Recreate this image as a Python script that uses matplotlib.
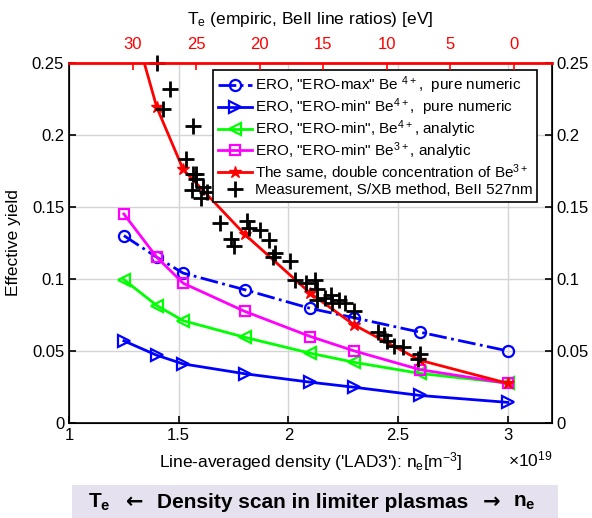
import matplotlib
matplotlib.use('Agg')
import matplotlib.pyplot as plt
from matplotlib.patches import Rectangle

plt.rcParams['font.family'] = ['Liberation Sans', 'DejaVu Sans']
plt.rcParams['mathtext.default'] = 'regular'

# density (x10^19 m^-3) of the ERO runs
ne_ero = [1.25, 1.4, 1.52, 1.8, 2.1, 2.3, 2.6, 3.0]

# effective yields of each ERO series
ero_max_num = [0.130, 0.115, 0.104, 0.0925, 0.0795, 0.073, 0.063, 0.050]
ero_min_num = [0.057, 0.047, 0.041, 0.0342, 0.0283, 0.0248, 0.0191, 0.0143]
ero_min_ana4 = [0.0995, 0.0815, 0.071, 0.0595, 0.0484, 0.0421, 0.0344, 0.0277]
ero_min_ana3 = [0.145, 0.115, 0.097, 0.0775, 0.060, 0.050, 0.037, 0.0275]
ero_double = [0.300, 0.219, 0.176, 0.131, 0.090, 0.068, 0.0435, 0.0275]

# measurement, S/XB method
meas_ne = [1.40, 1.46, 1.43, 1.565, 1.535, 1.58, 1.565, 1.58, 1.56, 1.61,
           1.63, 1.60, 1.686, 1.81, 1.82, 1.87, 1.74, 1.75, 1.91, 1.94,
           1.93, 2.005, 2.03, 2.08, 2.12, 2.13, 2.13, 2.165, 2.195, 2.20,
           2.23, 2.26, 2.30, 2.41, 2.435, 2.45, 2.48, 2.52, 2.60, 2.59]
meas_y = [0.250, 0.232, 0.218, 0.206, 0.183, 0.173, 0.173, 0.169, 0.162, 0.164,
          0.160, 0.156, 0.139, 0.140, 0.135, 0.134, 0.128, 0.123, 0.127, 0.118,
          0.115, 0.1125, 0.099, 0.097, 0.099, 0.093, 0.085, 0.087, 0.0885, 0.0835,
          0.085, 0.0835, 0.078, 0.063, 0.061, 0.057, 0.0537, 0.0524, 0.048, 0.0447]

te_ticks = [30, 25, 20, 15, 10, 5, 0]
y_ticks = [0, 0.05, 0.1, 0.15, 0.2, 0.25]
y_labels = ['0', '0.05', '0.1', '0.15', '0.2', '0.25']
x_ticks = [1, 1.5, 2, 2.5, 3]
x_labels = ['1', '1.5', '2', '2.5', '3']

fig = plt.figure(figsize=(5.92, 5.18), dpi=100)
ax = fig.add_axes([0.1166, 0.1834, 0.8154, 0.6956])

ms = 8
ax.plot(ne_ero, ero_max_num, '-.', color='#0000ff', lw=2, marker='o', ms=ms,
        mfc='none', mew=1.6, label='ERO, "ERO-max" Be $^{4+}$,  pure numeric')
ax.plot(ne_ero, ero_min_num, '-', color='#0000ff', lw=2, marker='>', ms=ms,
        mfc='none', mew=1.6, label='ERO, "ERO-min" Be$^{4+}$,  pure numeric')
ax.plot(ne_ero, ero_min_ana4, '-', color='#00ff00', lw=2, marker='<', ms=ms,
        mfc='none', mew=1.6, label='ERO, "ERO-min", Be$^{4+}$, analytic')
ax.plot(ne_ero, ero_min_ana3, '-', color='#ff00ff', lw=2, marker='s', ms=7,
        mfc='none', mew=1.6, label='ERO, "ERO-min" Be$^{3+}$, analytic')
ax.plot(ne_ero, ero_double, '-', color='#ff0000', lw=2, marker='*', ms=9,
        mfc='#ff0000', mew=1, label='The same, double concentration of Be$^{3+}$')
ax.plot(meas_ne, meas_y, '+', color='black', ms=12, mew=2, clip_on=False,
        label='Measurement, S/XB method, BeII 527nm')

ax.set_xlim(1, 3.2)
ax.set_ylim(0, 0.25)
ax.set_xticks(x_ticks)
ax.set_xticklabels(x_labels)
ax.set_yticks(y_ticks)
ax.set_yticklabels(y_labels)
ax.grid(True, color='#d4d4d4', lw=1)
ax.set_axisbelow(True)
ax.tick_params(direction='in', labelsize=12, top=True, right=True,
               labelright=True, length=5, width=1.2)
for s in ax.spines.values():
    s.set_linewidth(1.2)
ax.spines['top'].set_visible(False)

ax.set_ylabel('Effective yield', fontsize=12.5, labelpad=8)
ax.set_xlabel("Line-averaged density ('LAD3'): n$_e$[m$^{-3}$]", fontsize=12.5, labelpad=5)
fig.text(0.895, 0.1, r'$\times$10$^{19}$', fontsize=12.5, ha='center')

ax2 = ax.twiny()
ax2.set_xlim(35, -3)
ax2.set_xticks(te_ticks)
ax2.tick_params(direction='in', colors='red', labelsize=12, length=5, width=1.2, pad=8)
ax2.spines['top'].set_color('red')
ax2.spines['top'].set_linewidth(2)
ax2.set_xlabel('T$_e$ (empiric, BeII line ratios) [eV]', fontsize=12.5, labelpad=9)

leg = ax.legend(loc='upper right', bbox_to_anchor=(0.969, 0.98), fontsize=11,
                frameon=True, fancybox=False, edgecolor='black', framealpha=1,
                handlelength=2.2, handletextpad=0.2, borderpad=0.3,
                labelspacing=0.02, borderaxespad=0)
leg.get_frame().set_linewidth(1.2)

# banner below the chart
fig.patches.append(Rectangle((0.121, 0.0), 0.821, 0.064, transform=fig.transFigure,
                             facecolor='#e6e1ee', edgecolor='none'))
by = 0.03
fig.text(88 / 592, by, 'T$_e$', fontsize=15, fontweight='bold', ha='left', va='center')
fig.text(135 / 592, by, '\u2190', fontsize=15, fontweight='bold', ha='center',
         va='center', family='DejaVu Sans')
fig.text(313 / 592, by, 'Density scan in limiter plasmas', fontsize=15,
         fontweight='bold', ha='center', va='center')
fig.text(492 / 592, by, '\u2192', fontsize=15, fontweight='bold', ha='center',
         va='center', family='DejaVu Sans')
fig.text(513 / 592, by, 'n$_e$', fontsize=15, fontweight='bold', ha='left', va='center')

fig.savefig('out.png', dpi=100)
